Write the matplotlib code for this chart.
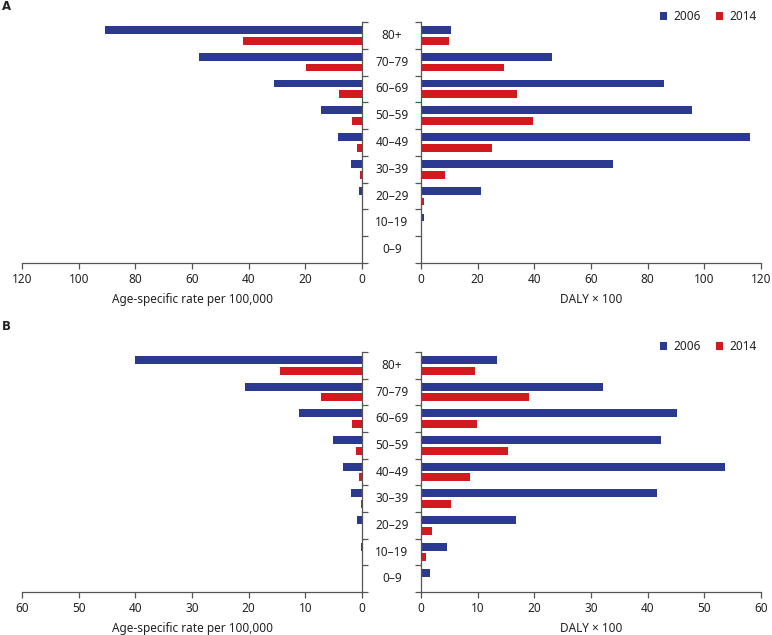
import matplotlib
matplotlib.use("Agg")
import matplotlib.pyplot as plt
import numpy as np

plt.rcParams['font.family'] = ['Noto Sans', 'DejaVu Sans']

categories = ["80+", "70–79", "60–69", "50–59", "40–49", "30–39", "20–29", "10–19", "0–9"]
series_names = ["2006", "2014"]

# Panel A
A_rate_2006 = [90.7, 57.6, 31.2, 14.4, 8.4, 3.8, 1.2, 0.0, 0.0]
A_rate_2014 = [42.0, 19.8, 8.2, 3.5, 1.6, 0.6, 0.0, 0.0, 0.0]
A_daly_2006 = [10.6, 46.2, 85.8, 95.5, 116.1, 67.8, 21.3, 1.2, 0.0]
A_daly_2014 = [9.8, 29.4, 33.9, 39.5, 25.2, 8.5, 1.2, 0.0, 0.0]

# Panel B
B_rate_2006 = [40.1, 20.6, 11.2, 5.2, 3.3, 2.0, 0.8, 0.2, 0.0]
B_rate_2014 = [14.4, 7.3, 1.8, 1.1, 0.5, 0.2, 0.0, 0.0, 0.0]
B_daly_2006 = [13.4, 32.1, 45.2, 42.3, 53.6, 41.6, 16.8, 4.5, 1.6]
B_daly_2014 = [9.5, 19.0, 9.8, 15.3, 8.6, 5.3, 1.9, 0.8, 0.0]

A_ticks = [0, 20, 40, 60, 80, 100, 120]
B_ticks = [0, 10, 20, 30, 40, 50, 60]

BLUE = "#2b3990"
RED = "#d2191e"
GREY = "#555555"
FS = 8.5

W, H = 772, 635
fig = plt.figure(figsize=(W / 100, H / 100), dpi=100)

def ax_rect(x0, y0, x1, y1):
    return [x0 / W, 1 - y1 / H, (x1 - x0) / W, (y1 - y0) / H]

n = len(categories)
pos = np.arange(n)
bh = 0.29
off = 0.2

def style(ax, side):
    for s in ["top", "left", "right", "bottom"]:
        ax.spines[s].set_visible(False)
    ax.spines["bottom"].set_visible(True)
    ax.spines[side].set_visible(True)
    for s in ["bottom", side]:
        ax.spines[s].set_color(GREY)
        ax.spines[s].set_linewidth(0.9)
    ax.set_ylim(n - 0.5, -0.5)
    ax.set_yticks(np.arange(-0.5, n - 0.4, 1.0))
    ax.set_yticklabels([])
    ax.tick_params(axis="both", colors=GREY, length=4, width=0.9, labelsize=FS,
                   labelcolor="#222222", direction="out", pad=3)
    if side == "right":
        ax.yaxis.tick_right()
    else:
        ax.yaxis.tick_left()

def panel(y0, y1, rate06, rate14, daly06, daly14, ticks, label, label_y):
    axl = fig.add_axes(ax_rect(22, y0, 362, y1))
    axr = fig.add_axes(ax_rect(421, y0, 761, y1))
    axl.barh(pos - off, rate06, height=bh, color=BLUE)
    axl.barh(pos + off, rate14, height=bh, color=RED)
    axl.set_xlim(ticks[-1], 0)
    axl.set_xticks(ticks)
    style(axl, "right")
    axl.set_xlabel("Age-specific rate per 100,000", fontsize=FS, color="#222222", labelpad=5)

    axr.barh(pos - off, daly06, height=bh, color=BLUE, label=series_names[0])
    axr.barh(pos + off, daly14, height=bh, color=RED, label=series_names[1])
    axr.set_xlim(0, ticks[-1])
    axr.set_xticks(ticks)
    style(axr, "left")
    axr.set_xlabel("DALY × 100", fontsize=FS, color="#222222", labelpad=5)

    for i, c in enumerate(categories):
        axr.text(-29 / 340 * ticks[-1], i, c, ha="center", va="center", fontsize=FS,
                 color="#222222", clip_on=False)

    fig.text(2 / W, 1 - label_y / H, label, fontsize=8.5, fontweight="bold",
             family=["DejaVu Sans"], ha="left", va="center", color="#222222")

    axr.legend(loc="lower right", bbox_to_anchor=(1.0, 0.975), ncol=2, frameon=False,
               fontsize=FS, handlelength=0.6, handleheight=0.6, handletextpad=0.5,
               columnspacing=1.3, borderaxespad=0.0, labelcolor="#222222")

panel(22, 263, A_rate_2006, A_rate_2014, A_daly_2006, A_daly_2014, A_ticks, "A", 6)
panel(352, 592, B_rate_2006, B_rate_2014, B_daly_2006, B_daly_2014, B_ticks, "B", 326)

fig.savefig("out.png", dpi=100)
